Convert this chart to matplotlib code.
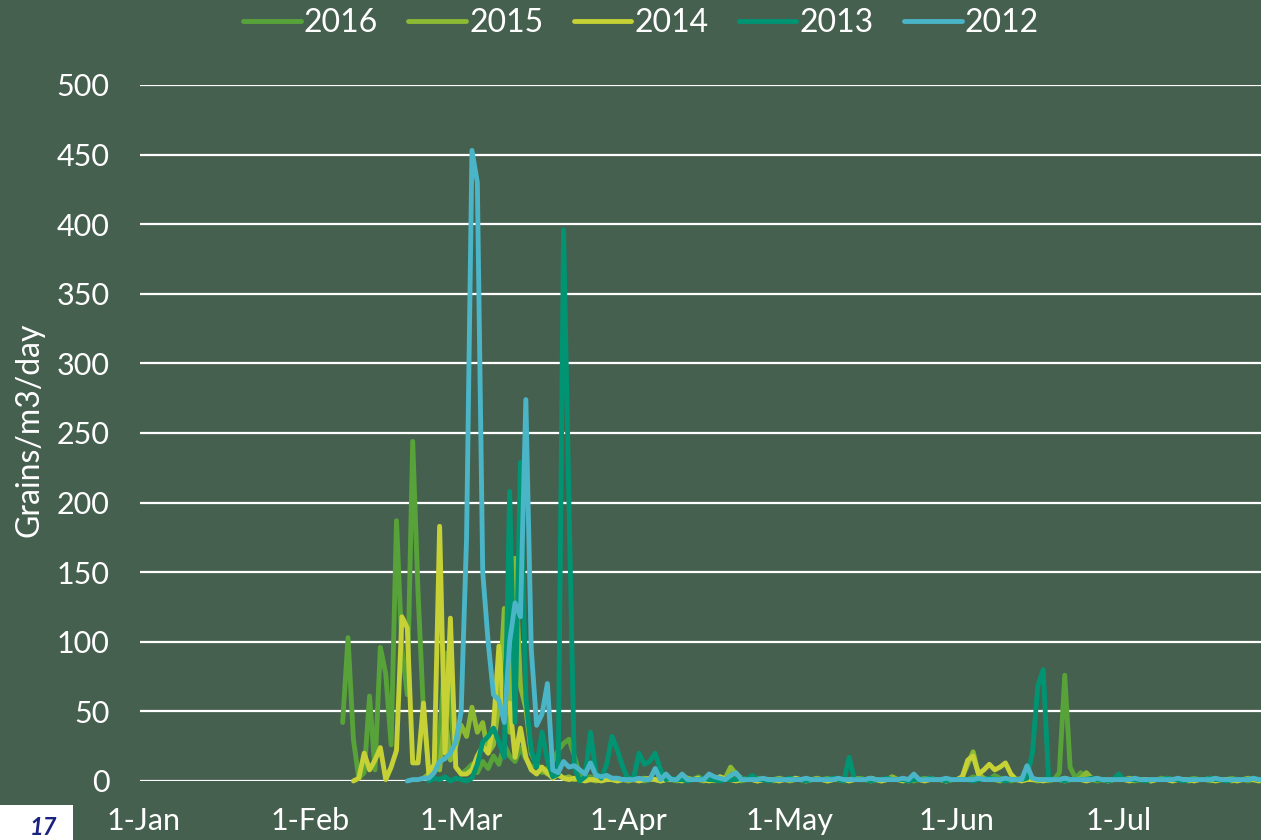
import numpy as np
import matplotlib
matplotlib.use("Agg")
import matplotlib.pyplot as plt
from matplotlib.patches import Rectangle

# daily pollen counts, days counted from 1-Jan (day 0)
years = ["2016", "2015", "2014", "2013", "2012"]
starts = {"2016": 37, "2015": 52, "2014": 39, "2013": 53, "2012": 49}

v2016 = [42, 103, 30, 2, 6, 61, 8, 96, 77, 26,
         187, 95, 62, 244, 135, 50, 6, 8, 30, 92,
         55, 10, 5, 8, 12, 6, 14, 9, 18, 12,
         26, 18, 14, 24, 16, 10, 12, 6, 9, 14,
         22, 27, 30, 18, 4, 2, 3, 1, 2, 1,
         1, 0, 1, 2, 1, 1, 0, 1, 1, 2,
         1, 1, 0, 1, 2, 1, 3, 1, 1, 0,
         1, 2, 1, 1, 0, 1, 1, 2, 1, 1,
         0, 1, 1, 1, 2, 1, 0, 1, 1, 1,
         2, 1, 1, 0, 1, 1, 2, 1, 1, 1,
         0, 1, 3, 1, 1, 1, 0, 1, 2, 1,
         1, 1, 0, 1, 1, 2, 1, 3, 2, 1,
         1, 4, 2, 1, 0, 1, 1, 2, 1, 1,
         1, 0, 1, 6, 76, 10, 2, 6, 1, 1,
         0, 1, 1, 1, 2, 1, 1, 0, 1, 1,
         1, 1, 2, 1, 0, 1, 1, 1, 2, 1,
         1, 0, 1, 1, 1, 2, 1, 1, 0, 1,
         1, 1, 1, 1]

v2015 = [2, 5, 10, 8, 48, 15, 25, 40, 32, 53,
         35, 42, 20, 26, 55, 124, 35, 160, 68, 52,
         20, 12, 8, 5, 8, 4, 2, 3, 1, 2,
         1, 1, 0, 1, 2, 1, 1, 1, 0, 1,
         1, 2, 1, 1, 0, 1, 1, 1, 4, 2,
         1, 1, 0, 1, 1, 3, 2, 10, 5, 2,
         1, 1, 0, 1, 1, 1, 2, 1, 0, 1,
         1, 1, 1, 2, 1, 0, 1, 1, 1, 1,
         2, 1, 1, 0, 1, 1, 1, 3, 1, 1,
         0, 1, 1, 1, 2, 1, 1, 0, 1, 1,
         3, 12, 21, 5, 2, 1, 1, 0, 1, 1,
         1, 2, 1, 1, 0, 1, 1, 1, 1, 2,
         1, 1, 2, 6, 2, 1, 1, 0, 1, 1,
         1, 2, 1, 1, 1, 0, 1, 1, 2, 1,
         1, 1, 0, 1, 1, 1, 2, 1, 1, 1,
         0, 1, 1, 2, 1, 1, 1, 1, 1]

v2014 = [0, 2, 20, 8, 15, 24, 1, 10, 22, 118,
         110, 13, 13, 56, 5, 12, 183, 20, 117, 10,
         5, 5, 8, 18, 25, 20, 40, 97, 45, 56,
         17, 38, 17, 8, 5, 10, 6, 2, 5, 2,
         1, 2, 1, 0, 1, 1, 0, 1, 1, 0,
         1, 1, 1, 0, 1, 2, 1, 0, 1, 1,
         1, 0, 1, 1, 2, 1, 0, 1, 3, 1,
         1, 0, 1, 1, 1, 0, 1, 1, 1, 0,
         1, 1, 2, 1, 0, 1, 1, 1, 0, 1,
         1, 1, 0, 1, 1, 1, 2, 1, 0, 1,
         1, 1, 0, 1, 1, 1, 0, 1, 1, 1,
         0, 1, 1, 3, 15, 18, 5, 8, 12, 8,
         10, 13, 5, 1, 0, 1, 1, 1, 0, 1,
         1, 1, 0, 1, 1, 1, 0, 1, 1, 1,
         0, 1, 1, 1, 0, 1, 1, 1, 0, 1,
         1, 1, 0, 1, 1, 1, 0, 1, 1, 1,
         0, 1, 1, 1, 0, 1, 1, 1, 0, 1, 1, 1]

v2013 = [0, 2, 1, 3, 0, 2, 1, 0, 2, 12,
         28, 32, 38, 28, 17, 208, 42, 229, 60, 22,
         10, 35, 15, 3, 5, 396, 200, 10, 0, 3,
         35, 6, 2, 12, 32, 22, 10, 1, 2, 20,
         12, 14, 20, 8, 1, 2, 1, 1, 0, 1,
         1, 2, 1, 1, 0, 1, 1, 1, 2, 1,
         4, 1, 1, 0, 1, 1, 1, 2, 1, 1,
         0, 1, 1, 1, 1, 2, 1, 0, 17, 1,
         1, 1, 0, 1, 1, 2, 1, 1, 1, 0,
         1, 1, 1, 2, 1, 1, 0, 1, 1, 1,
         1, 0, 1, 1, 2, 1, 1, 0, 1, 1,
         1, 2, 20, 68, 80, 2, 1, 1, 0, 1,
         1, 1, 1, 2, 1, 1, 0, 1, 5, 1,
         1, 1, 1, 0, 1, 1, 1, 2, 1, 1,
         0, 1, 1, 1, 1, 2, 1, 1, 0, 1,
         1, 1, 1, 2, 1, 1, 1, 1]

v2012 = [0, 1, 1, 2, 2, 6, 14, 16, 20, 28,
         50, 175, 453, 430, 150, 100, 62, 58, 42, 100,
         128, 118, 274, 95, 40, 48, 70, 8, 6, 14,
         10, 11, 8, 5, 13, 4, 3, 4, 2, 2,
         1, 1, 1, 2, 1, 1, 9, 1, 5, 1,
         1, 5, 1, 1, 1, 1, 5, 3, 2, 1,
         4, 6, 1, 1, 1, 1, 2, 1, 1, 1,
         1, 1, 1, 1, 2, 1, 1, 1, 1, 1,
         2, 1, 1, 1, 1, 1, 2, 1, 1, 1,
         1, 1, 2, 1, 5, 1, 1, 1, 1, 1,
         2, 1, 1, 1, 1, 1, 2, 1, 1, 1,
         1, 2, 1, 1, 1, 11, 2, 1, 1, 1,
         1, 1, 2, 1, 1, 1, 1, 1, 2, 1,
         1, 1, 1, 1, 1, 2, 1, 1, 1, 1,
         1, 1, 1, 2, 1, 1, 1, 1, 1, 1,
         2, 1, 1, 1, 1, 1, 1, 2, 1, 1, 1, 1]

values = {"2016": v2016, "2015": v2015, "2014": v2014, "2013": v2013, "2012": v2012}
colors = {"2016": "#58A23A", "2015": "#8CB933", "2014": "#C5D135",
          "2013": "#009473", "2012": "#4AB5C7"}

month_days = [0, 31, 59, 90, 120, 151, 181]
month_labels = ["1-Jan", "1-Feb", "1-Mar", "1-Apr", "1-May", "1-Jun", "1-Jul"]
yticks = list(range(0, 501, 50))

BG = "#46604F"
plt.rcParams["font.family"] = ["Lato", "DejaVu Sans"]
FS = 22

W, H = 1261, 840
fig = plt.figure(figsize=(W / 100, H / 100), dpi=100, facecolor=BG)
ax = fig.add_axes([140 / W, 59 / H, 1 - 140 / W, 696 / H], facecolor=BG)

for y in years:
    v = values[y]
    x = np.arange(starts[y], starts[y] + len(v))
    ax.plot(x, v, color=colors[y], lw=3.5, label=y, clip_on=False,
            solid_joinstyle="round", solid_capstyle="round")

ax.set_xlim(-0.6, (W - 143) / 5.39)
ax.set_ylim(0, 500)
ax.set_yticks(yticks)
ax.set_xticks(month_days)
ax.set_xticklabels(month_labels)
ax.grid(True, axis="y", color="white", lw=1.6)
ax.set_axisbelow(True)
for s in ax.spines.values():
    s.set_visible(False)
ax.tick_params(length=0, colors="white", labelsize=FS)
ax.tick_params(axis="y", pad=22)
ax.tick_params(axis="x", pad=19)

fig.text(30 / W, 1 - 430 / H, "Grains/m3/day", rotation=90, ha="center",
         va="center", color="white", fontsize=FS + 1)

leg = fig.legend(loc="center", bbox_to_anchor=(641 / W, 1 - 23 / H), ncol=5,
                 frameon=False, fontsize=FS + 1, handlelength=1.8,
                 handletextpad=0.1, columnspacing=0.95)
for t in leg.get_texts():
    t.set_color("white")

# corner of a logo at the bottom left
fig.patches.append(Rectangle((0, 0), 73 / W, 35 / H, transform=fig.transFigure,
                             facecolor="white", edgecolor="none"))
fig.text(30 / W, 1 / H, "17", color="#1a237e", fontsize=17, fontweight="bold",
         style="italic", ha="left", va="bottom")

fig.savefig("out.png", dpi=100, facecolor=BG)
